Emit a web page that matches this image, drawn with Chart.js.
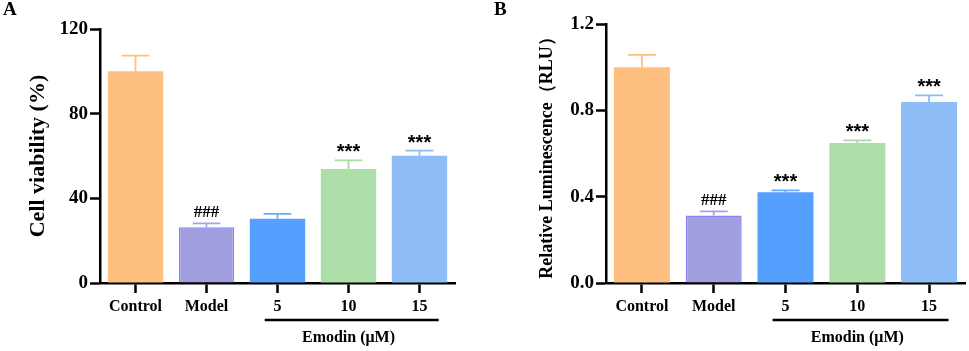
<!DOCTYPE html>
<html>
<head>
<meta charset="utf-8">
<script src="https://cdn.jsdelivr.net/npm/chart.js@4.4.1/dist/chart.umd.min.js"></script>
<style>
  body { margin: 0; background: #fff; width: 969px; height: 351px; position: relative; overflow: hidden; }
  .panel { position: absolute; top: 0; height: 351px; }
  .tag { position: absolute; top: -2px; font: bold 19px "Liberation Serif", serif; color: #000; }
</style>
</head>
<body>
<div class="panel" style="left:0;width:480px"><canvas id="chartA"></canvas></div>
<div class="panel" style="left:490px;width:479px"><canvas id="chartB"></canvas></div>
<div class="tag" style="left:3px">A</div>
<div class="tag" style="left:494px">B</div>
<script>
// groups on the x axis
const groups = ['Control', 'Model', '5', '10', '15'];

// panel A - cell viability (%)
const viability = [100, 26.3, 30.4, 53.9, 60.1];
const viabilityErr = [7.4, 1.9, 2.3, 4.0, 2.4];
const viabilityMarks = ['', '###', '', '***', '***'];

// panel B - relative luminescence
const luminescence = [1.0, 0.313, 0.42, 0.649, 0.839];
const luminescenceErr = [0.057, 0.019, 0.009, 0.012, 0.030];
const luminescenceMarks = ['', '###', '***', '***', '***'];

const barColors = ['#FFBF80', '#A09EDF', '#55A0FF', '#AEDFAA', '#8FBDF8'];
const errColors = ['#FFBF80', '#A4A2F0', '#6AAAFF', '#A8DBA6', '#8DBBF5'];
const serif = '"Liberation Serif", "Times New Roman", serif';

const errorBars = {
  id: 'errorBars',
  afterDatasetsDraw(chart, args, opts) {
    const ctx = chart.ctx;
    const y = chart.scales.y;
    const meta = chart.getDatasetMeta(0);
    const vals = chart.data.datasets[0].data;
    meta.data.forEach((bar, i) => {
      const top = y.getPixelForValue(vals[i] + opts.err[i]);
      const half = bar.width * 0.25;
      ctx.save();
      ctx.strokeStyle = errColors[i];
      ctx.lineWidth = 1.8;
      ctx.beginPath();
      ctx.moveTo(bar.x, bar.y);
      ctx.lineTo(bar.x, top);
      ctx.moveTo(bar.x - half, top);
      ctx.lineTo(bar.x + half, top);
      ctx.stroke();
      const txt = opts.marks[i];
      if (txt) {
        ctx.fillStyle = '#000';
        ctx.font = txt === '###' ? 'bold 17px ' + serif : 'bold 20px "Liberation Sans", Arial, sans-serif';
        ctx.textAlign = 'center';
        ctx.textBaseline = 'alphabetic';
        const m = ctx.measureText(txt);
        const centre = top - 12;
        ctx.fillText(txt, bar.x, centre + (m.actualBoundingBoxAscent - m.actualBoundingBoxDescent) / 2);
      }
      ctx.restore();
    });
  },
  afterDraw(chart) {
    // bracket under the emodin doses
    const ctx = chart.ctx;
    const x = chart.scales.x;
    const bottom = chart.chartArea.bottom;
    const catW = x.getPixelForValue(1) - x.getPixelForValue(0);
    const x1 = x.getPixelForValue(2) - 0.18 * catW;
    const x2 = x.getPixelForValue(4) + 0.27 * catW;
    ctx.save();
    ctx.strokeStyle = '#000';
    ctx.lineWidth = 2.5;
    ctx.beginPath();
    ctx.moveTo(x1, bottom + 37);
    ctx.lineTo(x2, bottom + 37);
    ctx.stroke();
    ctx.fillStyle = '#000';
    ctx.font = 'bold 16px ' + serif;
    ctx.textAlign = 'center';
    ctx.textBaseline = 'middle';
    ctx.fillText('Emodin (\u03BCM)', x.getPixelForValue(3), bottom + 55);
    ctx.restore();
  }
};

function makeChart(id, values, errs, marks, cfg) {
  return new Chart(document.getElementById(id), {
    type: 'bar',
    data: {
      labels: groups,
      datasets: [{
        data: values,
        backgroundColor: barColors,
        borderColor: ['#FFBF80', '#8784F6', '#55A0FF', '#AEDFAA', '#8FBDF8'],
        borderWidth: [0, 1.5, 0, 0, 0],
        borderSkipped: 'bottom',
        barPercentage: 0.78,
        categoryPercentage: 1
      }]
    },
    options: {
      responsive: true,
      maintainAspectRatio: false,
      animation: false,
      layout: { padding: { left: cfg.padLeft, top: cfg.padTop, right: cfg.padRight, bottom: 0 } },
      plugins: {
        legend: { display: false },
        tooltip: { enabled: false },
        errorBars: { err: errs, marks: marks }
      },
      scales: {
        x: {
          offset: true,
          afterFit(scale) { scale.height = 68; },
          border: { color: '#000', width: 2.5 },
          grid: { display: true, offset: false, drawOnChartArea: false, drawTicks: true, tickLength: 10, tickWidth: 2.5, tickColor: '#000' },
          ticks: { color: '#000', padding: 4, font: { family: serif, size: 16, weight: 'bold' } }
        },
        y: {
          min: 0,
          max: cfg.max,
          afterFit(scale) { scale.width = cfg.yWidth; },
          border: { color: '#000', width: 2.5 },
          grid: { display: true, drawOnChartArea: false, drawTicks: true, tickLength: 10, tickWidth: 2.5, tickColor: '#000' },
          ticks: {
            stepSize: cfg.step,
            color: '#000',
            padding: 2,
            font: { family: serif, size: 19, weight: 'bold' },
            callback: cfg.fmt
          },
          title: {
            display: true,
            text: cfg.title,
            color: '#000',
            padding: 0,
            font: { family: serif, size: cfg.titleSize, weight: 'bold' }
          }
        }
      }
    },
    plugins: [errorBars]
  });
}

makeChart('chartA', viability, viabilityErr, viabilityMarks, {
  padLeft: 25, padTop: 29, padRight: 25, yWidth: 75,
  max: 120, step: 40, fmt: v => v,
  title: 'Cell viability (%)', titleSize: 22
});

makeChart('chartB', luminescence, luminescenceErr, luminescenceMarks, {
  padLeft: 47, padTop: 24, padRight: 4, yWidth: 69,
  max: 1.2, step: 0.4, fmt: v => v.toFixed(1),
  title: 'Relative Luminescence\uFF08RLU\uFF09', titleSize: 18
});
</script>
</body>
</html>
